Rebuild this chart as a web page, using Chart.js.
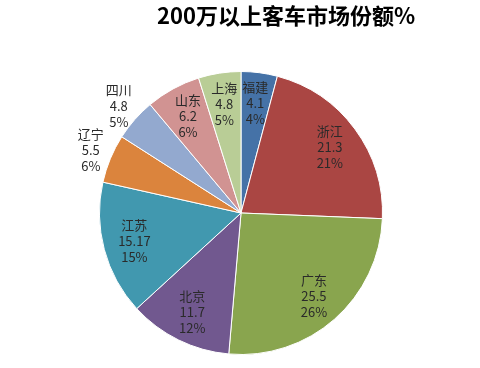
<!DOCTYPE html>
<html>
<head>
<meta charset="utf-8">
<script src="https://cdn.jsdelivr.net/npm/chart.js@4"></script>
<style>
  html, body { margin: 0; padding: 0; background: #fff; }
  #wrap { width: 480px; height: 368px; position: relative; }
</style>
</head>
<body>
<div id="wrap"><canvas id="pieChart" width="480" height="368"></canvas></div>
<script>
// Data
const regions = ['福建', '浙江', '广东', '北京', '江苏', '辽宁', '四川', '山东', '上海'];
const shares = [4.1, 21.3, 25.5, 11.7, 15.17, 5.5, 4.8, 6.2, 4.8];
const percentLabels = ['4%', '21%', '26%', '12%', '15%', '6%', '5%', '6%', '5%'];
const sliceColors = ['#4572A7', '#AA4643', '#89A54E', '#71588F', '#4198AF', '#DB843D', '#93A9CF', '#D19392', '#B9CD96'];
const chartTitle = '200万以上客车市场份额%';

// Labels outside the pie for the two thin slices on the left
const outsideLabel = [false, false, false, false, false, true, true, false, false];

const FONT = '"Noto Sans CJK SC", "Noto Sans", sans-serif';

const sliceLabels = {
    id: 'sliceLabels',
    afterDatasetsDraw(chart) {
        const ctx = chart.ctx;
        const arcs = chart.getDatasetMeta(0).data;
        ctx.save();
        ctx.font = '13px ' + FONT;
        ctx.fillStyle = '#2a2a2a';
        ctx.textAlign = 'center';
        ctx.textBaseline = 'middle';
        arcs.forEach((arc, i) => {
            const mid = (arc.startAngle + arc.endAngle) / 2;
            const r = arc.outerRadius * (outsideLabel[i] ? 1.15 : 0.78);
            const x = arc.x + Math.cos(mid) * r;
            const y = arc.y + Math.sin(mid) * r;
            const lines = [regions[i], String(shares[i]), percentLabels[i]];
            lines.forEach((t, k) => ctx.fillText(t, x, y + (k - 1) * 16));
        });
        ctx.restore();
    }
};

const titleText = {
    id: 'titleText',
    afterDraw(chart) {
        const ctx = chart.ctx;
        ctx.save();
        ctx.font = 'bold 22px ' + FONT;
        ctx.fillStyle = '#000';
        ctx.textAlign = 'center';
        ctx.textBaseline = 'middle';
        ctx.fillText(chartTitle, 286, 16);
        ctx.restore();
    }
};

new Chart(document.getElementById('pieChart').getContext('2d'), {
    type: 'pie',
    data: {
        labels: regions,
        datasets: [{
            data: shares,
            backgroundColor: sliceColors,
            borderColor: '#ffffff',
            borderWidth: 1
        }]
    },
    options: {
        responsive: false,
        animation: false,
        layout: {
            padding: { left: 99, right: 97, top: 71, bottom: 13 }
        },
        plugins: {
            legend: { display: false },
            tooltip: { enabled: false },
            title: { display: false }
        }
    },
    plugins: [sliceLabels, titleText]
});
</script>
</body>
</html>
